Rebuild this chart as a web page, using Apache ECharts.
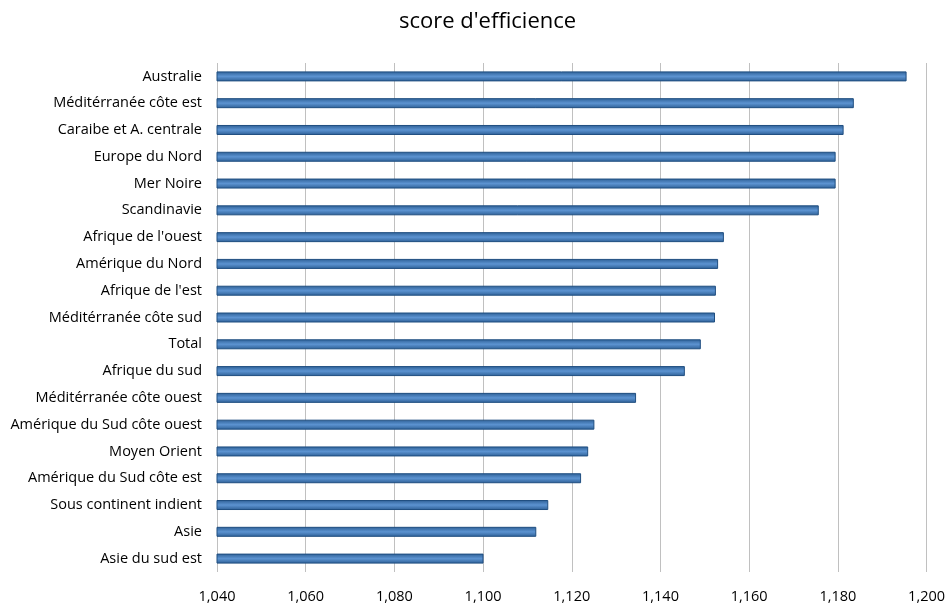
<!DOCTYPE html>
<html>
<head>
<meta charset="utf-8">
<script src="https://cdn.jsdelivr.net/npm/echarts@6/dist/echarts.min.js"></script>
<style>html,body{margin:0;padding:0;background:#fff}#c{width:948px;height:604px}</style>
</head>
<body>
<div id="c"></div>
<script>
var categories = ["Australie","Méditérranée côte est","Caraibe et A. centrale","Europe du Nord","Mer Noire","Scandinavie","Afrique de l'ouest","Amérique du Nord","Afrique de l'est","Méditérranée côte sud","Total","Afrique du sud","Méditérranée côte ouest","Amérique du Sud côte ouest","Moyen Orient","Amérique du Sud côte est","Sous continent indient","Asie","Asie du sud est"];
var scores = [1.1955,1.1836,1.1813,1.1795,1.1795,1.1757,1.1543,1.1530,1.1525,1.1523,1.1491,1.1455,1.1345,1.1251,1.1237,1.1221,1.1147,1.1120,1.1001];
var xMin = 1.04, xMax = 1.20, xStep = 0.02;
var title = "score d'efficience";

var chart = echarts.init(document.getElementById('c'), null, {renderer:'canvas'});
var font = "'Open Sans', 'Noto Sans', sans-serif";
chart.setOption({
  animation: false,
  backgroundColor: '#fff',
  title: {text: title, left: 394, top: 6, textStyle: {fontFamily: font, fontSize: 22, fontWeight: 'normal', color: '#000'}},
  grid: {left: 217, right: 20, top: 63, bottom: 31, containLabel: false},
  xAxis: {
    type: 'value', min: xMin, max: xMax, interval: xStep,
    axisLine: {show: false}, axisTick: {show: false},
    splitLine: {show: true, lineStyle: {color: '#c0c0c0', width: 1}},
    axisLabel: {fontFamily: font, fontSize: 14.5, color: '#000', margin: 17,
      formatter: function(v){ return v.toFixed(3).replace('.', ','); }}
  },
  yAxis: {
    type: 'category', data: categories, inverse: true,
    axisLine: {show: false}, axisTick: {show: false},
    axisLabel: {fontFamily: font, fontSize: 14.5, color: '#000', margin: 15}
  },
  series: [{
    type: 'bar', data: scores, barWidth: 10,
    itemStyle: {
      color: new echarts.graphic.LinearGradient(0,0,0,1,[
        {offset:0, color:'#2d5f95'},
        {offset:0.5, color:'#5c93d1'},
        {offset:1, color:'#2d5f95'}
      ]),
      borderColor: '#1f4e80', borderWidth: 1
    }
  }]
});
</script>
</body>
</html>
